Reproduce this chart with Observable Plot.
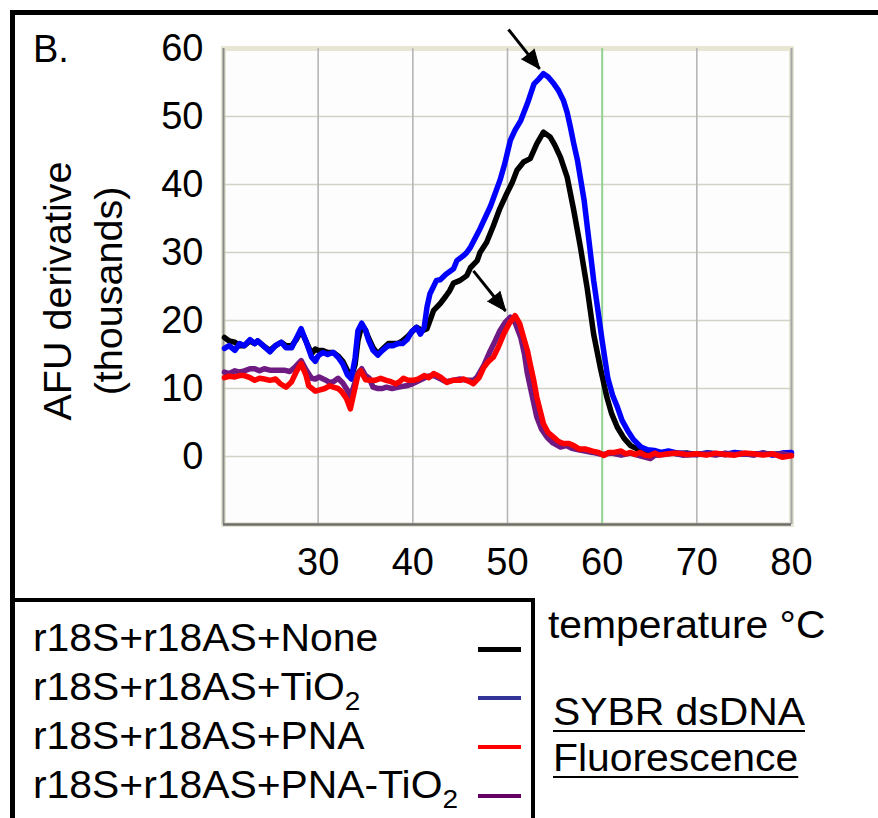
<!DOCTYPE html>
<html>
<head>
<meta charset="utf-8">
<script src="https://cdn.jsdelivr.net/npm/d3@7"></script>
<script src="https://cdn.jsdelivr.net/npm/@observablehq/plot@0.6"></script>
<style>
  html, body { margin: 0; padding: 0; background: #fff; }
  #wrap { position: relative; width: 878px; height: 818px; overflow: hidden; font-family: "Liberation Sans", Arial, sans-serif; color: #000; }
  #wrap svg { position: absolute; left: 0; top: 0; }
  .abs { position: absolute; font-size: 38px; line-height: 38px; white-space: nowrap; }
  .wide { transform: scaleX(1.075); transform-origin: 0 50%; }
  .bar { position: absolute; background: #000; }
  .sw { position: absolute; height: 4px; }
  sub { font-size: 26px; vertical-align: -10px; line-height: 0; }
  .ul { text-decoration: underline; text-decoration-thickness: 2px; text-underline-offset: 5px; }
</style>
</head>
<body>
<div id="wrap"></div>
<script>
// ---- data (temperature °C, AFU derivative in thousands) ----
const seriesNames = ["r18S+r18AS+None", "r18S+r18AS+TiO2", "r18S+r18AS+PNA", "r18S+r18AS+PNA-TiO2"];
const seriesColors = ["#000000", "#0000ff", "#ff0000", "#6e1a82"];
const legendColors = ["#000000", "#33339a", "#ff0000", "#660066"];

const noneT = [20.1,20.6,21.2,21.7,22.2,22.8,23.3,23.6,24.2,24.9,25.5,26.1,26.6,27.2,27.7,28.2,28.7,29.3,29.7,30.0,30.5,31.0,31.6,32.1,32.6,33.1,33.5,33.9,34.2,34.6,35.0,35.3,35.8,36.3,36.8,37.4,37.9,38.4,38.9,39.4,39.9,40.4,41.0,41.5,42.2,42.9,43.5,43.9,44.3,45.0,45.7,46.1,46.8,47.1,47.8,48.5,49.2,49.9,50.5,51.0,51.7,52.4,53.1,53.8,54.5,55.0,55.6,56.3,57.0,57.7,58.4,59.1,59.8,60.5,61.0,61.6,62.3,63.0,64.0,65.0,66.0,67.0,68.0,69.0,70.0,71.0,72.0,73.0,74.0,75.0,76.0,77.0,78.0,79.0,80.0];
const noneY = [17.5,17.0,16.8,16.3,16.3,17.0,16.6,17.0,16.3,15.6,16.3,16.8,16.3,16.3,17.2,18.5,17.0,15.1,15.8,15.6,15.6,15.3,15.3,14.8,14.0,12.6,11.7,13.5,17.0,19.3,18.6,17.5,16.0,15.1,15.8,16.6,16.6,16.6,17.0,17.6,18.3,19.0,18.5,18.8,21.5,22.5,23.6,24.4,25.5,25.9,26.6,27.8,28.8,30.0,31.5,33.9,36.5,38.6,40.3,42.1,43.3,43.8,46.0,47.7,47.0,45.8,44.0,41.1,36.2,30.8,24.9,18.0,13.1,8.7,6.3,4.3,2.7,1.6,0.9,0.8,0.5,0.6,0.4,0.5,0.3,0.5,0.4,0.3,0.5,0.4,0.3,0.5,0.3,0.4,0.5];

const tio2T = [20.1,20.6,21.2,21.7,22.2,22.8,23.3,23.6,24.2,24.9,25.5,26.1,26.6,27.2,27.7,28.2,28.7,29.3,29.7,30.0,30.5,31.0,31.6,32.1,32.6,33.1,33.5,33.9,34.2,34.6,35.0,35.3,35.8,36.3,36.8,37.4,37.9,38.4,38.9,39.4,39.9,40.4,40.8,41.2,41.5,41.8,42.5,42.9,43.5,44.3,44.65,45.4,45.7,46.1,47.1,48.2,49.2,49.7,50.3,50.8,51.4,52.1,52.8,53.3,53.8,54.3,54.9,55.4,55.9,56.3,56.65,57.0,57.4,58.1,58.6,59.1,59.5,60.0,60.6,61.1,61.6,62.1,62.7,63.3,64.1,64.8,65.5,66.2,67.0,68.0,69.0,70.0,71.0,72.0,73.0,74.0,75.0,76.0,77.0,78.0,79.0,80.0];
const tio2Y = [15.9,16.3,15.6,16.6,16.3,17.2,16.6,17.0,16.3,15.4,16.3,16.8,16.0,16.0,17.4,18.8,17.0,14.6,14.0,14.8,15.3,15.0,15.3,14.6,13.6,12.0,11.4,14.5,18.5,19.6,18.6,17.2,15.6,14.9,15.6,16.3,16.3,16.6,16.6,17.2,18.4,19.0,18.0,19.0,22.0,23.9,25.9,26.0,26.8,27.6,28.8,29.6,30.0,30.8,33.5,36.8,40.6,43.0,46.5,48.0,49.4,51.9,54.8,55.5,56.3,55.8,54.8,53.8,52.4,50.6,48.4,46.0,43.5,37.6,31.8,25.9,22.0,17.0,11.5,9.0,7.3,5.3,3.8,2.5,1.4,1.0,0.9,0.6,0.8,0.5,0.4,0.3,0.5,0.4,0.3,0.6,0.4,0.3,0.5,0.2,0.5,0.6];

const pnaT = [20.1,20.6,21.2,21.7,22.2,22.8,23.3,23.8,24.3,24.9,25.5,26.0,26.6,27.2,27.7,28.2,28.7,29.0,29.7,30.2,30.7,31.2,31.6,32.1,32.5,33.0,33.4,33.8,34.2,34.5,35.0,35.5,36.0,36.6,37.2,37.7,38.2,38.6,39.0,39.5,40.05,40.6,41.2,41.7,42.2,42.9,43.6,44.2,45.0,45.35,46.0,46.4,47.0,47.5,48.0,48.5,49.0,49.6,50.2,50.8,51.3,51.7,52.1,52.4,52.8,53.1,53.5,53.8,54.3,54.9,55.4,55.9,56.5,57.0,57.6,58.2,59.0,59.6,60.2,60.7,61.3,62.0,62.5,63.0,63.5,64.0,64.5,65.0,65.6,66.0,67.0,68.0,69.0,70.0,71.0,72.0,73.0,74.0,75.0,76.0,77.0,78.0,79.0,80.0];
const pnaY = [11.6,11.8,11.7,11.9,11.9,11.6,11.2,11.5,11.4,11.2,11.4,10.7,10.2,11.0,12.5,13.7,12.0,10.4,9.6,9.8,10.0,10.4,10.2,10.0,9.5,8.5,7.0,9.5,12.0,12.6,11.3,11.2,11.2,11.5,11.2,11.0,10.7,11.0,11.5,11.2,11.2,11.4,11.9,11.6,12.2,11.7,10.9,11.2,11.2,11.4,11.0,10.7,11.6,13.1,14.0,14.6,16.0,18.0,19.6,20.7,19.5,17.5,15.6,13.6,11.0,8.7,6.5,4.8,3.5,2.8,2.2,1.9,1.9,1.6,1.1,1.1,0.8,0.6,0.15,0.6,0.6,0.8,0.4,0.6,0.3,0.6,0.2,0.1,0.5,0.2,0.4,0.5,0.3,0.4,0.2,0.5,0.3,0.2,0.5,0.4,0.2,0.4,-0.1,0.1];

const pnaTiT = [20.1,20.6,21.2,21.7,22.2,22.8,23.3,23.8,24.3,24.9,25.5,26.0,26.4,27.0,27.6,28.2,28.7,29.3,29.7,30.1,30.7,31.2,31.6,32.1,32.6,33.1,33.4,33.8,34.2,34.6,35.0,35.4,35.8,36.3,36.8,37.2,37.8,38.5,39.3,39.8,40.4,41.0,41.6,42.2,42.8,43.5,44.2,45.0,45.7,46.4,46.8,47.5,48.2,48.7,49.2,49.8,50.3,50.8,51.4,51.8,52.1,52.6,53.1,53.6,54.2,54.8,55.6,56.2,56.8,57.5,58.2,59.0,60.0,61.0,62.0,63.0,64.0,65.1,65.6,66.5,67.5,68.5,70.0,71.0,72.0,73.0,74.0,75.0,76.0,77.0,78.0,79.0,80.0];
const pnaTiY = [12.4,12.2,12.6,12.4,12.6,12.9,12.9,12.6,12.9,12.7,12.7,12.7,12.7,12.5,13.2,14.1,12.8,11.5,11.4,11.7,11.3,10.9,11.0,11.5,10.8,9.7,8.7,10.5,12.3,12.9,11.9,11.5,10.2,10.0,10.0,10.2,10.0,10.2,10.4,10.6,11.0,11.4,11.8,11.9,11.5,11.0,11.2,11.4,11.2,11.2,11.7,13.4,15.6,17.0,18.5,19.8,20.5,19.7,17.5,15.0,12.2,9.0,5.8,4.0,2.8,2.0,1.4,1.6,1.2,1.0,0.8,0.6,0.3,0.5,0.2,0.5,0.1,-0.3,0.2,0.3,0.5,0.2,0.3,0.4,0.2,0.5,0.3,0.4,0.2,0.5,0.3,0.4,0.2];

const xTicks = [30, 40, 50, 60, 70, 80];
const yTicks = [0, 10, 20, 30, 40, 50, 60];
const xGrid = [30, 40, 50, 70];
const yGrid = [0, 10, 20, 30, 40, 50];
const markerTemp = [60];
// arrows: start and tip, in data units
const arrowFrom = [[50.1, 62.8], [46.4, 27.3]];
const arrowTo = [[53.4, 57.0], [49.8, 21.4]];

// ---- layout constants of the plot ----
const W = 878, H = 818, ML = 223, MR = 87, MT = 48, MB = 294;
const xDomain = [20, 80], yDomain = [-10, 60];

// ---- build tables ----
function toRows(T, Y, name) { return T.map((t, i) => ({temp: t, afu: Y[i], series: name})); }
const rows = [
  toRows(noneT, noneY, seriesNames[0]),
  toRows(tio2T, tio2Y, seriesNames[1]),
  toRows(pnaTiT, pnaTiY, seriesNames[3]),
  toRows(pnaT, pnaY, seriesNames[2])
];
const drawColors = [seriesColors[0], seriesColors[1], seriesColors[3], seriesColors[2]];

const sx = Plot.scale({x: {domain: xDomain, range: [ML, W - MR]}});
const sy = Plot.scale({y: {domain: yDomain, range: [H - MB, MT]}});
const arrows = arrowFrom.map((f, i) => {
  const t = arrowTo[i];
  const dx = sx.apply(t[0]) - sx.apply(f[0]);
  const dy = sy.apply(t[1]) - sy.apply(f[1]);
  return {x1: f[0], y1: f[1], x2: t[0], y2: t[1], angle: Math.atan2(dx, -dy) * 180 / Math.PI};
});

const chart = Plot.plot({
  width: W,
  height: H,
  marginLeft: ML,
  marginRight: MR,
  marginTop: MT,
  marginBottom: MB,
  style: {fontFamily: "'Liberation Sans', Arial, sans-serif", fontSize: "38px", background: "transparent", overflow: "visible"},
  x: {domain: xDomain},
  y: {domain: yDomain},
  marks: [
    Plot.frame({fill: "#fdfdfd", stroke: "#e6e6d2", strokeWidth: 5}),
    Plot.gridY(yGrid, {stroke: "#d2d2c6", strokeOpacity: 1, strokeWidth: 1.6}),
    Plot.gridX(xGrid, {stroke: "#b6b6b6", strokeOpacity: 1, strokeWidth: 1.6}),
    Plot.ruleX(markerTemp, {stroke: "#94d294", strokeWidth: 2}),
    Plot.ruleX([20], {stroke: "#8a8a8a", strokeWidth: 2}),
    Plot.ruleX([80], {stroke: "#a6a6a6", strokeWidth: 2}),
    Plot.ruleY([-10], {stroke: "#6e6e6e", strokeWidth: 2.5}),
    Plot.axisY(yTicks, {tickSize: 0, tickPadding: 20, label: null, fontSize: 38}),
    Plot.axisX(xTicks, {tickSize: 0, tickPadding: 24, label: null, fontSize: 38}),
    ...rows.map((r, i) => Plot.line(r, {x: "temp", y: "afu", stroke: drawColors[i], strokeWidth: 5.5, strokeLinejoin: "round", strokeLinecap: "round"})),
    Plot.link(arrows, {x1: "x1", y1: "y1", x2: "x2", y2: "y2", stroke: "#000", strokeWidth: 3}),
    Plot.vector(arrows, {x: "x2", y: "y2", rotate: "angle", length: 19, r: 8, anchor: "end", shape: "spike", fill: "#000", stroke: "#000", strokeWidth: 1})
  ]
});

const wrap = document.getElementById("wrap");
wrap.appendChild(chart);

function addDiv(cls, css, html) {
  const d = document.createElement("div");
  d.className = cls;
  Object.assign(d.style, css);
  if (html != null) d.innerHTML = html;
  wrap.appendChild(d);
  return d;
}
// outer borders
addDiv("bar", {left: "10px", top: "10px", width: "868px", height: "5px"});
addDiv("bar", {left: "10px", top: "10px", width: "5px", height: "808px"});
// legend box
addDiv("bar", {left: "10px", top: "598px", width: "525px", height: "4px"});
addDiv("bar", {left: "531px", top: "598px", width: "4px", height: "220px"});

// panel letter
addDiv("abs", {left: "33px", top: "30px"}, "B.");
// y title (rotated)
addDiv("abs", {left: "57px", top: "291px", fontSize: "39.5px", transform: "translate(-50%,-50%) rotate(-90deg)"}, "AFU derivative");
addDiv("abs", {left: "108px", top: "291px", fontSize: "39.5px", transform: "translate(-50%,-50%) rotate(-90deg)"}, "(thousands)");
// x title and note
addDiv("abs wide", {left: "548px", top: "606px"}, "temperature °C");
addDiv("abs ul wide", {left: "553px", top: "693px"}, "SYBR dsDNA");
addDiv("abs ul wide", {left: "553px", top: "739px"}, "Fluorescence");

// legend entries
const legendHTML = ["r18S+r18AS+None", "r18S+r18AS+TiO<sub>2</sub>", "r18S+r18AS+PNA", "r18S+r18AS+PNA-TiO<sub>2</sub>"];
const rowTop = [619, 668, 717, 766];
const swH = [5, 3.5, 4, 4];
legendHTML.forEach((h, i) => {
  addDiv("abs wide", {left: "33px", top: rowTop[i] + "px"}, h);
  addDiv("sw", {left: "478px", top: (rowTop[i] + 28) + "px", width: "43px", height: swH[i] + "px", background: legendColors[i]});
});
</script>
</body>
</html>
